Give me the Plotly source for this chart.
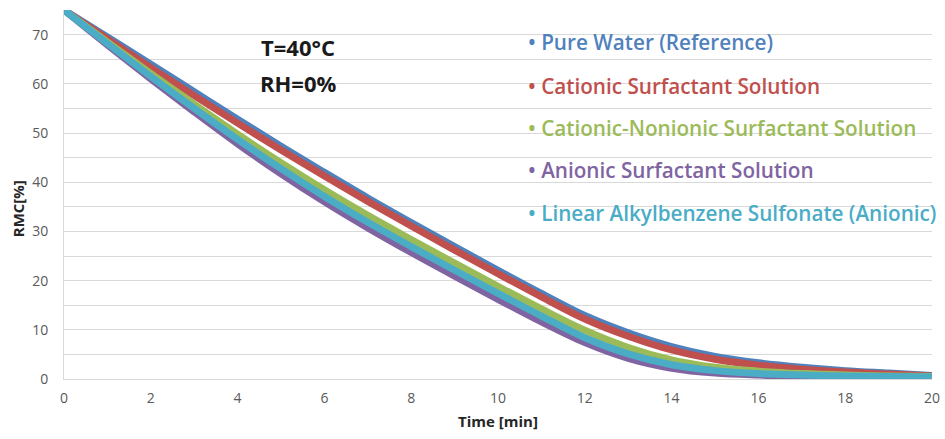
import plotly.graph_objects as go

time_min = list(range(0, 21))

pure_water = [75, 69.5, 64.0, 58.4, 52.8, 47.3, 42.0, 36.8, 31.8, 26.9, 22.1, 17.4, 12.9, 9.4, 6.6, 4.6, 3.3, 2.4, 1.7, 1.2, 0.7]
cationic = [75, 69.1, 63.3, 57.6, 52.0, 46.55, 41.25, 36.1, 31.1, 26.2, 21.4, 16.7, 12.2, 8.7, 5.9, 4.0, 2.8, 2.0, 1.4, 1.0, 0.6]
cationic_nonionic = [75, 68.5, 62.1, 55.85, 49.75, 43.95, 38.45, 33.25, 28.35, 23.55, 18.85, 14.25, 9.9, 6.4, 3.9, 2.4, 1.6, 1.1, 0.8, 0.6, 0.5]
anionic = [75, 67.9, 61.0, 54.3, 47.8, 41.7, 36.0, 30.7, 25.7, 20.9, 16.2, 11.6, 7.4, 4.2, 2.2, 1.2, 0.8, 0.6, 0.5, 0.4, 0.3]
las = [75, 68.2, 61.5, 55.0, 48.7, 42.75, 37.1, 31.85, 26.9, 22.1, 17.4, 12.8, 8.4, 5.1, 2.9, 1.7, 1.1, 0.8, 0.6, 0.5, 0.4]

names = ["Pure Water (Reference)", "Cationic Surfactant Solution",
         "Cationic-Nonionic Surfactant Solution", "Anionic Surfactant Solution",
         "Linear Alkylbenzene Sulfonate (Anionic)"]
colors = ["#4F81BD", "#C0504D", "#9BBB59", "#8064A2", "#4BACC6"]
series = [pure_water, cationic, cationic_nonionic, anionic, las]

x_ticks = list(range(0, 21, 2))
y_ticks = list(range(0, 71, 10))

fig = go.Figure()
for i in range(5):
    fig.add_trace(go.Scatter(x=time_min, y=series[i], mode="lines", name=names[i],
                             line=dict(color=colors[i], width=7, shape="spline", smoothing=1.0),
                             showlegend=False))

legend_y = [68.4, 59.6, 51.1, 42.5, 33.8]
for i in range(5):
    fig.add_annotation(x=(526 - 64) / 868, y=legend_y[i], xref="paper", yref="y", text="• " + names[i],
                       showarrow=False, xanchor="left", yanchor="middle",
                       font=dict(family="Open Sans", size=20.7, color=colors[i], weight=600))

fig.add_shape(type="rect", xref="paper", yref="y", x0=(517 - 64) / 868, x1=1.05, y0=26.8, y1=73.5,
              fillcolor="white", line=dict(width=0), layer="below")

fig.add_annotation(x=5.4, y=67.4, xref="x", yref="y", text="T=40°C", showarrow=False,
                   font=dict(family="Open Sans", size=22, color="#1a1a1a", weight=700))
fig.add_annotation(x=5.4, y=60.2, xref="x", yref="y", text="RH=0%", showarrow=False,
                   font=dict(family="Open Sans", size=22, color="#1a1a1a", weight=700))

# axis titles
fig.add_annotation(x=(18 - 64) / 868, y=34.5, xref="paper", yref="y", text="RMC[%]", textangle=-90,
                   showarrow=False, xanchor="center", yanchor="middle",
                   font=dict(family="Open Sans", size=15, color="#262626", weight=700))
fig.add_annotation(x=10, y=-(421 - 379) / 369, xref="x", yref="paper", text="Time [min]",
                   showarrow=False, xanchor="center", yanchor="middle",
                   font=dict(family="Open Sans", size=15, color="#262626", weight=700))

fig.update_layout(
    width=945, height=439,
    margin=dict(l=64, r=13, t=10, b=60, autoexpand=False),
    plot_bgcolor="white", paper_bgcolor="white",
    font=dict(family="Open Sans", color="#595959", size=14),
)
fig.update_xaxes(range=[0, 20], tickvals=x_ticks, showgrid=False, zeroline=False, automargin=False,
                 showline=True, linecolor="#D9D9D9", linewidth=1, ticks="", ticklabelstandoff=6,
                 tickfont=dict(size=14, color="#595959"))
fig.update_yaxes(range=[0, 75], tickvals=y_ticks, showgrid=True, gridcolor="#D9D9D9", automargin=False,
                 minor=dict(dtick=5, showgrid=True, gridcolor="#D9D9D9"),
                 zeroline=False, showline=True, linecolor="#D9D9D9", linewidth=1, ticks="",
                 ticklabelstandoff=12, tickfont=dict(size=14, color="#595959"))

fig.write_html("out.html", config={"displayModeBar": False},
               post_script="document.body.style.margin='0px';")
